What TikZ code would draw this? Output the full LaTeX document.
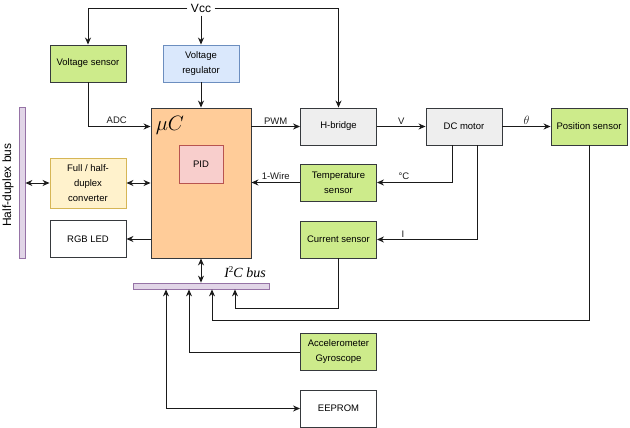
\documentclass[tikz,border=0pt]{standalone}
\usepackage{fontspec}
\setmainfont{Liberation Sans}
\newfontfamily\serifit{Liberation Serif}
\usepackage{tikz}
\usetikzlibrary{calc,positioning,arrows.meta}
\definecolor{borda}{HTML}{36393D}
\definecolor{verde}{HTML}{CDEB8B}
\definecolor{azul}{HTML}{DAE8FC}
\definecolor{azulb}{HTML}{6C8EBF}
\definecolor{laranja}{HTML}{FFCC99}
\definecolor{rosa}{HTML}{F8CECC}
\definecolor{rosab}{HTML}{B85450}
\definecolor{cinza}{HTML}{EEEEEE}
\definecolor{amarelo}{HTML}{FFF2CC}
\definecolor{amarelob}{HTML}{D6B656}
\definecolor{lilas}{HTML}{E1D5E7}
\definecolor{lilasb}{HTML}{9673A6}
\definecolor{linha}{HTML}{1A1A1A}

\begin{document}
\begin{tikzpicture}[x=1pt,y=-1pt, font=\fontsize{9.5}{15}\selectfont,
    blk/.style={draw=borda, line width=0.9pt, fill=#1, align=center, inner sep=0pt, minimum width=76pt, minimum height=37pt},
    barra/.style={draw=lilasb, line width=0.8pt, fill=lilas, inner sep=0pt},
    sig/.style={-{Stealth[length=7pt,width=6pt]}, line width=0.9pt, linha},
    duo/.style={{Stealth[length=7pt,width=6pt]}-{Stealth[length=7pt,width=6pt]}, line width=0.9pt, linha},
    lbl/.style={above, inner sep=2pt}]
  \useasboundingbox (0,0) rectangle (630,428);
  % supply
  \node[font=\fontsize{12}{12}\selectfont] (vcc) at (201,8) {Vcc};
  \node[blk=verde] (vsens) at (88,63.5) {Voltage sensor};
  \node[blk=azul, draw=azulb] (vreg) at (201,63.5) {Voltage\\regulator};
  % controller
  \node[blk=laranja, minimum width=100pt, minimum height=150pt] (uc) at (201,183) {};
  \node[font=\fontsize{21}{21}\selectfont, anchor=north west, inner sep=0pt] (ucl) at ($(uc.north west)+(5,9)$) {$\mu C$};
  \node[blk=rosa, draw=rosab, minimum width=44pt, minimum height=38pt] (pid) at (201,164) {PID};
  % power stage
  \node[blk=cinza] (hbr) at (338.5,126.5) {H-bridge};
  \node[blk=cinza] (motor) at (464,126.5) {DC motor};
  \node[blk=verde] (pos) at (589,126.5) {Position sensor};
  \node[blk=verde] (temp) at (338.5,182.5) {Temperature\\sensor};
  \node[blk=verde] (cur) at (338.5,239.5) {Current sensor};
  % left side
  \node[blk=amarelo, draw=amarelob, minimum height=50pt] (conv) at (88,183) {Full / half-\\duplex\\converter};
  \node[blk=white] (rgb) at (88,239) {RGB LED};
  \node[barra, minimum width=6pt, minimum height=151pt] (hbus) at (22,182.5) {};
  \node[rotate=90, font=\fontsize{12}{12}\selectfont] (hbusl) at (8,185) {Half-duplex bus};
  % i2c
  \node[barra, minimum width=136pt, minimum height=6pt] (ibus) at (201,286) {};
  \node[font=\fontsize{14}{14}\serifit] (ibusl) at (245,272) {\itshape I\raisebox{5pt}{\upshape\fontsize{9}{9}\selectfont 2}C bus};
  \node[blk=verde] (acc) at (338.5,352) {Accelerometer\\Gyroscope};
  \node[blk=white] (eeprom) at (338.5,408.5) {EEPROM};

  \draw[sig] (vcc.west) -| (vsens.north);
  \draw[sig] (vcc.east) -| (hbr.north);
  \draw[sig] (vcc.south) -- (vreg.north);
  \draw[sig] (vreg.south) -- (uc.north);
  \draw[sig] (vsens.south) |- node[lbl, pos=0.73]{ADC} (uc.west |- hbr.west);
  \draw[sig] (uc.east |- hbr.west) -- node[lbl]{PWM} (hbr.west);
  \draw[sig] (hbr.east) -- node[lbl]{V} (motor.west);
  \draw[sig] (motor.east) -- node[lbl, font=\fontsize{12}{12}\selectfont]{$\theta$} (pos.west);
  \draw[sig] ([xshift=-12pt]motor.south) |- node[lbl, pos=0.82]{°C} (temp.east);
  \draw[sig] ([xshift=13pt]motor.south) |- node[lbl, pos=0.87]{I} (cur.east);
  \draw[sig] (temp.west) -- node[lbl]{1-Wire} (temp.west -| uc.east);
  \draw[duo] (conv.east) -- (conv.east -| uc.west);
  \draw[duo] (conv.west -| hbus.east) -- (conv.west);
  \draw[sig] (rgb.east -| uc.west) -- (rgb.east);
  \draw[duo] (uc.south) -- (ibus.north);
  \draw[sig] (cur.south) -- ++(0,50) -| ([xshift=34pt]ibus.south);
  \draw[sig] (pos.south) -- ++(0,175) -| ([xshift=11pt]ibus.south);
  \draw[sig] (acc.west) -| ([xshift=-12pt]ibus.south);
  \draw[duo] (eeprom.west) -| ([xshift=-35pt]ibus.south);
\end{tikzpicture}
\end{document}
